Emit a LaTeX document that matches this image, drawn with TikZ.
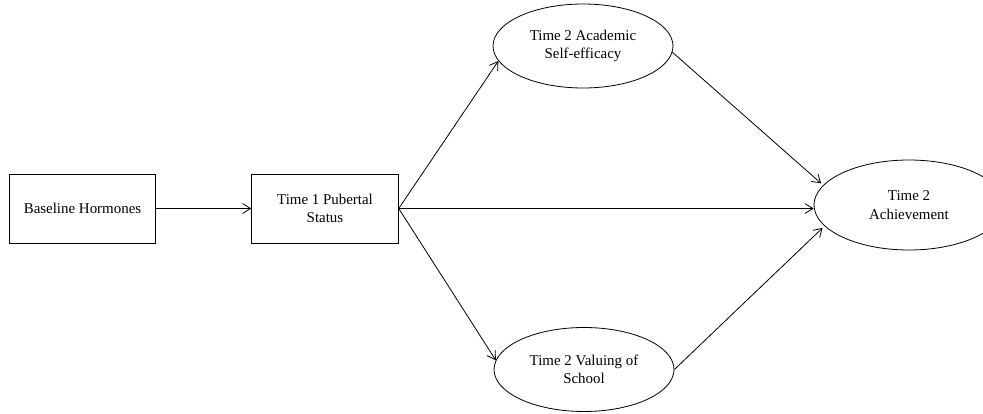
\documentclass[tikz,border=0pt]{standalone}
\usepackage{fontspec}
\setmainfont{Liberation Serif}
\usepackage{tikz}
\usetikzlibrary{shapes.geometric,arrows.meta}

\begin{document}
\begin{tikzpicture}[x=0.75pt, y=-0.75pt, line width=0.6pt, >={Straight Barb[length=6pt,width=7.5pt]},
    every node/.style={align=center, inner sep=0pt, font=\fontsize{11.2pt}{13.7pt}\selectfont},
    box/.style={draw, rectangle, minimum width=110pt, minimum height=51.75pt},
    oval/.style={draw, ellipse, minimum width=135pt, minimum height=63pt}]
        \useasboundingbox (0,0) rectangle (983,414);
        \node[box] (hormones) at (82.5,208.5) {Baseline Hormones};
        \node[box] (pubertal) at (325,208.5) {Time 1 Pubertal\\Status};
        \node[oval] (efficacy) at (583,46) {Time 2 Academic\\Self-efficacy};
        \node[oval] (valuing) at (584,369.5) {Time 2 Valuing of\\School};
        \node[oval, minimum width=142.5pt, minimum height=67.5pt] (achieve) at (909,205) {Time 2\\Achievement};

        \draw[->] (hormones) -- (pubertal);
        \draw[->] (pubertal.east) -- (efficacy.190);
        \draw[->] (pubertal.east) -- (valuing.174);
        \draw[->] (pubertal.east) -- (pubertal.east -| achieve.west);
        \draw[->, shorten >=2pt] (efficacy.-4) -- (achieve.167);
        \draw[->, shorten >=2pt] (valuing.east) -- (achieve.194);
    \end{tikzpicture}
\end{document}
